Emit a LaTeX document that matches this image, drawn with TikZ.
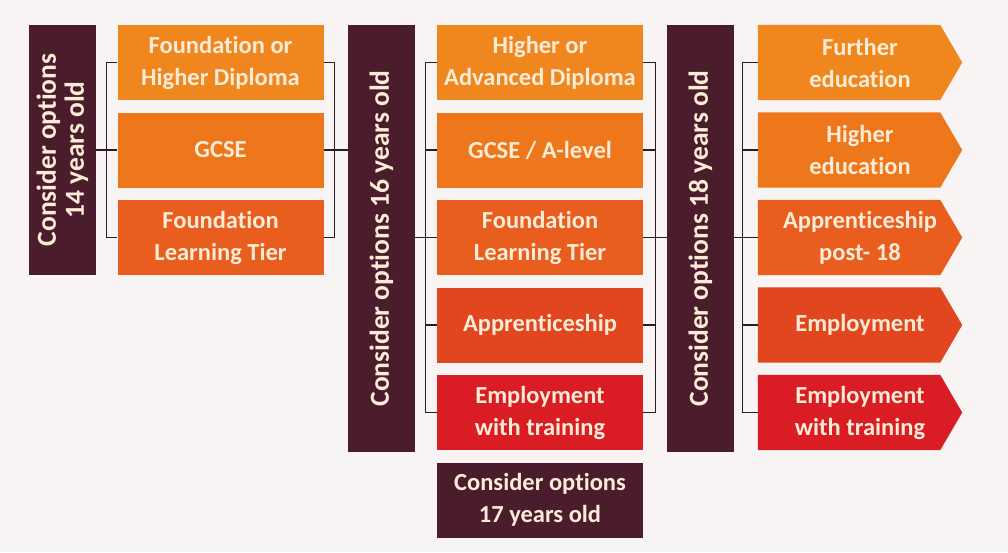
\documentclass[tikz,border=0pt]{standalone}
\usepackage{fontspec}
\setmainfont{Carlito}[Ligatures=NoCommon]
\usetikzlibrary{backgrounds}

\definecolor{pagecol}{HTML}{F8F4F4}
\definecolor{barcol}{HTML}{4B1D2C}
\definecolor{txtcol}{HTML}{FCEBD6}
\definecolor{linecol}{HTML}{2E1A20}
\definecolor{rowa}{HTML}{F0871E}
\definecolor{rowb}{HTML}{EE771B}
\definecolor{rowc}{HTML}{E95E1F}
\definecolor{rowd}{HTML}{E2461E}
\definecolor{rowe}{HTML}{DA1C24}

\begin{document}
\begin{tikzpicture}[x=1pt,y=-1pt,
  optbar/.style={fill=barcol,text=txtcol,rotate=90,align=center,inner sep=0pt,
    minimum height=67pt,font=\bfseries\fontsize{27.5}{28}\selectfont},
  qualbox/.style={text=txtcol,align=center,inner sep=0pt,minimum width=206pt,
    minimum height=75pt,font=\bfseries\fontsize{24.5}{32}\selectfont},
  nextbox/.style={qualbox,minimum width=204pt},
  link/.style={draw=linecol,line width=1.2pt}]
\begin{pgfonlayer}{background}
\fill[pagecol] (0,0) rectangle (1008,552);
\end{pgfonlayer}
\useasboundingbox (0,0) rectangle (1008,552);

% the three decision points
\node[optbar,minimum width=250pt] (bar14) at (62.5,150) {Consider options\\14 years old};
\node[optbar,minimum width=427pt] (bar16) at (381.5,238.5) {Consider options 16 years old};
\node[optbar,minimum width=427pt] (bar18) at (700.5,238.5) {Consider options 18 years old};

% options at 14
\node[qualbox,fill=rowa] (fhd) at (220.5,62.5) {Foundation or\\Higher Diploma};
\node[qualbox,fill=rowb] (gcse) at (220.5,150) {GCSE};
\node[qualbox,fill=rowc] (flt) at (220.5,237.5) {Foundation\\Learning Tier};

% options at 16
\node[qualbox,fill=rowa] (had) at (540,62.5) {Higher or\\Advanced Diploma};
\node[qualbox,fill=rowb] (alev) at (540,150) {GCSE / A-level};
\node[qualbox,fill=rowc] (flts) at (540,237.5) {Foundation\\Learning Tier};
\node[qualbox,fill=rowd] (appr) at (540,325) {Apprenticeship};
\node[qualbox,fill=rowe] (ewt) at (540,412.5) {Employment\\with training};
\node[qualbox,fill=barcol] (opt17) at (540,500) {Consider options\\17 years old};

% options at 18
\node[nextbox] (fe) at (860,62.5) {Further\\education};
\node[nextbox] (he) at (860,150) {Higher\\education};
\node[nextbox] (app18) at (860,237.5) {Apprenticeship\\post- 18};
\node[nextbox] (emp) at (860,325) {Employment};
\node[nextbox] (ewte) at (860,412.5) {Employment\\with training};
\begin{pgfonlayer}{background}
\foreach \n/\c in {fe/rowa,he/rowb,app18/rowc,emp/rowd,ewte/rowe}
  \fill[\c] (\n.north west) -- ([xshift=-22pt]\n.north east) -- (\n.east)
    -- ([xshift=-22pt]\n.south east) -- (\n.south west) -- cycle;
\end{pgfonlayer}

% brackets
\draw[link] (fhd.west) -- ++(-11,0) |- (flt.west);
\draw[link] (bar14.south) -- (gcse.west);
\draw[link] (fhd.east) -- ++(11,0) |- (flt.east);
\draw[link] (gcse.east) -- (gcse.east -| bar16.north);

\draw[link] (had.west) -- ++(-11,0) |- (ewt.west);
\foreach \n in {alev,flts,appr} \draw[link] (\n.west) -- ++(-11,0);
\draw[link] (flts.west -| bar16.south) -- (flts.west);
\draw[link] (had.east) -- ++(12,0) |- (ewt.east);
\foreach \n in {alev,flts,appr} \draw[link] (\n.east) -- ++(12,0);
\draw[link] (flts.east) -- (flts.east -| bar18.north);

\draw[link] (fe.west) -- ++(-15,0) |- (ewte.west);
\foreach \n in {he,app18,emp} \draw[link] (\n.west) -- ++(-15,0);
\draw[link] (app18.west -| bar18.south) -- ++(9,0);
\end{tikzpicture}
\end{document}
